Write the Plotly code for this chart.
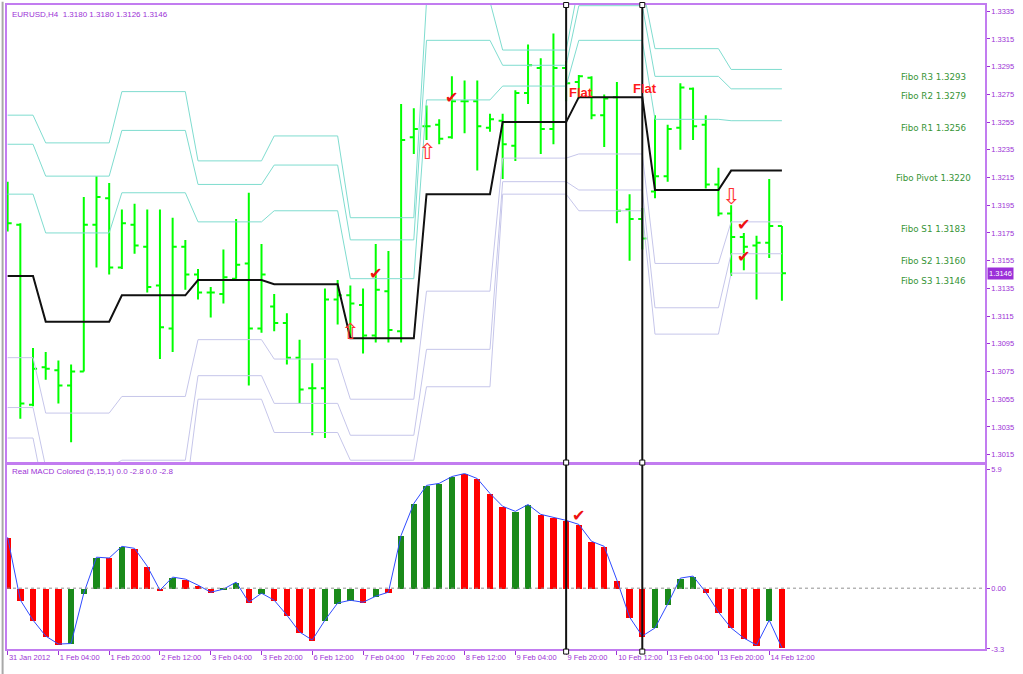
import plotly.graph_objects as go

# ---------------- data ----------------
bar_index = list(range(62))

opens = [1.3198, 1.3181, 1.3051, 1.3078, 1.3076, 1.3065, 1.3075, 1.3181, 1.3200, 1.3150,
         1.3181, 1.3165, 1.3137, 1.3106, 1.3165, 1.3145, 1.3132, 1.3131, 1.3142, 1.3153,
         1.3106, 1.3122, 1.3110, 1.3085, 1.3063, 1.3063, 1.3127, 1.3130, 1.3123, 1.3101,
         1.3133, 1.3104, 1.3244, 1.3252, 1.3253, 1.3244, 1.3270, 1.3270, 1.3251, 1.3256,
         1.3238, 1.3276, 1.3294, 1.3250, 1.3294, 1.3284, 1.3287, 1.3260, 1.3273, 1.3192,
         1.3185, 1.3205, 1.3216, 1.3251, 1.3279, 1.3253, 1.3210, 1.3189, 1.3172, 1.3166,
         1.3168, 1.3180]
highs = [1.3212, 1.3182, 1.3092, 1.3089, 1.3083, 1.3080, 1.3201, 1.3216, 1.3211, 1.3192,
         1.3196, 1.3192, 1.3192, 1.3186, 1.3170, 1.3149, 1.3136, 1.3163, 1.3185, 1.3204,
         1.3167, 1.3131, 1.3117, 1.3098, 1.3081, 1.3135, 1.3141, 1.3137, 1.3135, 1.3167,
         1.3162, 1.3268, 1.3265, 1.3267, 1.3257, 1.3288, 1.3285, 1.3285, 1.3261, 1.3261,
         1.3278, 1.3311, 1.3301, 1.3319, 1.3299, 1.3289, 1.3288, 1.3275, 1.3284, 1.3203,
         1.3193, 1.3260, 1.3253, 1.3283, 1.3280, 1.3260, 1.3222, 1.3195, 1.3175, 1.3173,
         1.3214, 1.3180]
lows = [1.3176, 1.3041, 1.3050, 1.3069, 1.3052, 1.3024, 1.3075, 1.3150, 1.3145, 1.3149,
        1.3160, 1.3132, 1.3084, 1.3089, 1.3134, 1.3127, 1.3114, 1.3124, 1.3142, 1.3065,
        1.3103, 1.3104, 1.3080, 1.3052, 1.3029, 1.3027, 1.3109, 1.3099, 1.3088, 1.3096,
        1.3096, 1.3096, 1.3232, 1.3242, 1.3239, 1.3243, 1.3247, 1.3220, 1.3248, 1.3214,
        1.3227, 1.3268, 1.3232, 1.3239, 1.3270, 1.3272, 1.3257, 1.3237, 1.3182, 1.3155,
        1.3163, 1.3200, 1.3212, 1.3235, 1.3242, 1.3207, 1.3187, 1.3144, 1.3148, 1.3127,
        1.3157, 1.3126]
closes = [1.3182, 1.3052, 1.3077, 1.3077, 1.3065, 1.3075, 1.3181, 1.3201, 1.3150, 1.3182,
          1.3166, 1.3136, 1.3107, 1.3165, 1.3145, 1.3132, 1.3132, 1.3143, 1.3152, 1.3106,
          1.3145, 1.3110, 1.3085, 1.3062, 1.3063, 1.3127, 1.3130, 1.3124, 1.3101, 1.3134,
          1.3105, 1.3242, 1.3250, 1.3252, 1.3243, 1.3270, 1.3270, 1.3252, 1.3257, 1.3239,
          1.3276, 1.3296, 1.3250, 1.3294, 1.3283, 1.3288, 1.3260, 1.3272, 1.3191, 1.3185,
          1.3171, 1.3216, 1.3250, 1.3280, 1.3252, 1.3210, 1.3189, 1.3172, 1.3165, 1.3168,
          1.3180, 1.3146]

# daily Fibonacci pivot levels (bars per trading day)
day_bar_counts = [3, 6, 6, 6, 6, 6, 6, 6, 6, 6, 5]
pivot_day = [1.3144, 1.3111, 1.3130, 1.3141, 1.3138, 1.3099, 1.3203, 1.3255, 1.3273, 1.3206, 1.3220]
r1_day = [1.3203, 1.3175, 1.3204, 1.3183, 1.3191, 1.3142, 1.3271, 1.3281, 1.3314, 1.3257, 1.3256]
r2_day = [1.3239, 1.3216, 1.3249, 1.3210, 1.3224, 1.3170, 1.3314, 1.3296, 1.3339, 1.3288, 1.3279]
r3_day = [1.3260, 1.3240, 1.3277, 1.3227, 1.3245, 1.3186, 1.3342, 1.3307, 1.3354, 1.3308, 1.3293]
s1_day = [1.3085, 1.3045, 1.3057, 1.3098, 1.3084, 1.3055, 1.3133, 1.3229, 1.3232, 1.3153, 1.3183]
s2_day = [1.3049, 1.3006, 1.3011, 1.3072, 1.3052, 1.3029, 1.3091, 1.3212, 1.3206, 1.3121, 1.3160]
s3_day = [1.3027, 1.2981, 1.2983, 1.3055, 1.3031, 1.3011, 1.3064, 1.3203, 1.3191, 1.3102, 1.3146]

fibo_names = ["Fibo R3", "Fibo R2", "Fibo R1", "Fibo Pivot", "Fibo S1", "Fibo S2", "Fibo S3"]

# MACD histogram and colour state (g = green, r = red)
macd_hist = [2.53, -0.59, -1.59, -2.38, -2.78, -2.75, -0.25, 1.54, 1.50, 2.08,
             1.98, 1.09, -0.10, 0.55, 0.45, 0.15, -0.20, -0.05, 0.30, -0.70,
             -0.25, -0.60, -1.34, -2.18, -2.58, -1.59, -0.74, -0.60, -0.70, -0.40,
             -0.20, 2.63, 4.21, 5.11, 5.21, 5.55, 5.70, 5.45, 4.71, 4.07,
             3.82, 4.16, 3.67, 3.52, 3.37, 3.17, 2.33, 2.08, 0.40, -1.44,
             -2.38, -1.98, -0.79, 0.50, 0.60, -0.20, -1.19, -1.98, -2.48, -2.83,
             -1.59, -2.97]
macd_state = list("rrrrrgggrgrrrgrrrggrgrrrrgggrgrgggggrrrrggrrrrrrrrrggggrrrrrgr")

# x axis labels
x_tick_index = [0, 4, 8, 12, 16, 20, 24, 28, 32, 36, 40, 44, 48, 52, 56, 60]
x_tick_labels = ["31 Jan 2012", "1 Feb 04:00", "1 Feb 20:00", "2 Feb 12:00", "3 Feb 04:00",
                 "3 Feb 20:00", "6 Feb 12:00", "7 Feb 04:00", "7 Feb 20:00", "8 Feb 12:00",
                 "9 Feb 04:00", "9 Feb 20:00", "10 Feb 12:00", "13 Feb 04:00", "13 Feb 20:00",
                 "14 Feb 12:00"]
price_ticks = [1.3015, 1.3035, 1.3055, 1.3075, 1.3095, 1.3115, 1.3135, 1.3155, 1.3175,
               1.3195, 1.3215, 1.3235, 1.3255, 1.3275, 1.3295, 1.3315, 1.3335]
macd_tick_vals = [5.9, 0.0, -3.02]
macd_tick_text = ["5.9", "0.00", "-3.3"]

last_price = 1.3146
title_text = "EURUSD,H4  1.3180 1.3180 1.3126 1.3146"
macd_title = "Real MACD Colored (5,15,1) 0.0 -2.8 0.0 -2.8"

# vertical line objects, signals
vline_bars = [44, 50]
flat_labels = [(44.05, 1.3276), (49.1, 1.3279)]
check_marks_price = [(29, 1.3146), (35, 1.3273), (58, 1.3181), (58, 1.3158)]
check_marks_macd = [(45, 3.6)]
up_arrows = [(27, 1.3104), (33, 1.3234)]
down_arrows = [(57, 1.3201)]

# ---------------- styles ----------------
FONT = "Liberation Sans"
PURPLE = "#9c33d6"
FRAME = "#c27cf0"
AQUA = "#7fdccf"
LAV = "#c6c6ea"
BAR_GREEN = "#00ff00"
HIST_GREEN = "#1a8a1a"
HIST_RED = "#ff0000"
FIBO_TXT = "#379537"


def per_bar(day_values):
    out = []
    for v, n in zip(day_values, day_bar_counts):
        out += [v] * n
    return out


fig = go.Figure()

# Fibonacci levels
for vals, col, w in [(r3_day, AQUA, 1), (r2_day, AQUA, 1), (r1_day, AQUA, 1),
                     (s1_day, LAV, 1), (s2_day, LAV, 1), (s3_day, LAV, 1),
                     (pivot_day, "#111111", 2)]:
    fig.add_trace(go.Scatter(x=bar_index, y=per_bar(vals), mode="lines",
                             line=dict(color=col, width=w), xaxis="x", yaxis="y",
                             hoverinfo="skip", showlegend=False))

# price bars
fig.add_trace(go.Ohlc(x=bar_index, open=opens, high=highs, low=lows, close=closes,
                      increasing=dict(line=dict(color=BAR_GREEN, width=2)),
                      decreasing=dict(line=dict(color=BAR_GREEN, width=2)),
                      tickwidth=0.32, xaxis="x", yaxis="y", showlegend=False,
                      hoverinfo="skip"))

# MACD histogram + line
fig.add_trace(go.Bar(x=bar_index, y=macd_hist, width=0.5,
                     marker=dict(color=[HIST_GREEN if s == "g" else HIST_RED for s in macd_state],
                                 line=dict(width=0)),
                     xaxis="x2", yaxis="y2", showlegend=False, hoverinfo="skip"))
fig.add_trace(go.Scatter(x=bar_index, y=macd_hist, mode="lines",
                         line=dict(color="#2f4bff", width=1), xaxis="x2", yaxis="y2",
                         showlegend=False, hoverinfo="skip"))

shapes = []
shapes.append(dict(type="line", xref="paper", x0=0, x1=1, yref="y2", y0=0, y1=0,
                   line=dict(color="#909090", width=1, dash="dot")))
for b in vline_bars:
    shapes.append(dict(type="line", xref="x", x0=b, x1=b, yref="paper", y0=-0.005, y1=1,
                       line=dict(color="#111111", width=2)))
    for py in [1.0, 0.2895, -0.004]:
        shapes.append(dict(type="rect", xref="x", xsizemode="pixel", xanchor=b, x0=-2.5, x1=2.5,
                           yref="paper", ysizemode="pixel", yanchor=py, y0=-2.5, y1=2.5,
                           line=dict(color="#111111", width=1), fillcolor="white"))
shapes.append(dict(type="line", xref="paper", x0=-0.0045, x1=-0.0045, yref="paper",
                   y0=-0.04, y1=1.005, line=dict(color="#a8a8a8", width=2)))

annotations = []
annotations.append(dict(text=title_text, xref="paper", yref="paper", x=0.003, y=0.9845,
                        xanchor="left", yanchor="middle", showarrow=False,
                        font=dict(family=FONT, size=8, color=PURPLE)))
annotations.append(dict(text=macd_title, xref="paper", yref="paper", x=0.003, y=0.2755,
                        xanchor="left", yanchor="middle", showarrow=False,
                        font=dict(family=FONT, size=8, color=PURPLE)))
fibo_levels_last = [r3_day[-1], r2_day[-1], r1_day[-1], pivot_day[-1], s1_day[-1], s2_day[-1], s3_day[-1]]
for name, lv in zip(fibo_names, fibo_levels_last):
    annotations.append(dict(text=f"{name} {lv:.4f}", xref="x", yref="y", x=72.95, y=lv,
                            xanchor="center", yanchor="middle", yshift=-7.5, showarrow=False,
                            font=dict(family="DejaVu Sans", size=8.7, color=FIBO_TXT)))
for fx, fy in flat_labels:
    annotations.append(dict(text="<b>Flat</b>", xref="x", yref="y", x=fx, y=fy,
                            xanchor="left", yanchor="middle", showarrow=False,
                            font=dict(family=FONT, size=13, color="#ff1a1a")))
for cx, cy in check_marks_price:
    annotations.append(dict(text="✔", xref="x", yref="y", x=cx, y=cy, showarrow=False,
                            font=dict(family="DejaVu Sans", size=16, color="#ee1111")))
for cx, cy in check_marks_macd:
    annotations.append(dict(text="✔", xref="x2", yref="y2", x=cx, y=cy, showarrow=False,
                            font=dict(family="DejaVu Sans", size=16, color="#ee1111")))
for ax_, ay in up_arrows:
    annotations.append(dict(text="⇧", xref="x", yref="y", x=ax_, y=ay, showarrow=False,
                            font=dict(family="DejaVu Sans", size=22, color="#ff3030")))
for ax_, ay in down_arrows:
    annotations.append(dict(text="⇩", xref="x", yref="y", x=ax_, y=ay, showarrow=False,
                            font=dict(family="DejaVu Sans", size=22, color="#ff3030")))
annotations.append(dict(text=f"{last_price:.4f}", xref="paper", yref="y", x=1.0, y=last_price,
                        xanchor="left", yanchor="middle", xshift=2, showarrow=False,
                        bgcolor="#9b30d8", borderpad=1,
                        font=dict(family=FONT, size=7.5, color="white")))

xr = [-0.05, 77.0]
fig.update_layout(
    width=1023, height=674,
    margin=dict(l=7, r=38, t=3, b=25),
    paper_bgcolor="white", plot_bgcolor="white",
    showlegend=False, hovermode=False, bargap=0,
    shapes=shapes, annotations=annotations,
    xaxis=dict(domain=[0, 1], range=xr, anchor="y", showticklabels=False, ticks="",
               showgrid=False, zeroline=False, showline=True, mirror=True,
               linecolor=FRAME, linewidth=1.5, rangeslider=dict(visible=False)),
    yaxis=dict(domain=[0.2895, 1], range=[1.30093, 1.33395], side="right", anchor="x",
               tickvals=price_ticks, tickformat=".4f", ticks="outside", ticklen=3,
               tickcolor=PURPLE, showgrid=False, zeroline=False, showline=True, mirror=True,
               linecolor=FRAME, linewidth=1.5, automargin=False,
               tickfont=dict(family=FONT, size=7.5, color=PURPLE)),
    xaxis2=dict(domain=[0, 1], range=xr, anchor="y2", tickvals=x_tick_index,
                ticktext=x_tick_labels, ticks="outside", ticklen=4, tickcolor=PURPLE,
                tickangle=0, ticklabelposition="outside right", showgrid=False,
                zeroline=False, automargin=False,
                showline=True, mirror=True, linecolor=FRAME, linewidth=1.5,
                tickfont=dict(family=FONT, size=7.5, color=PURPLE)),
    yaxis2=dict(domain=[0, 0.288], range=[-3.024, 6.197], side="right", anchor="x2",
                tickvals=macd_tick_vals, ticktext=macd_tick_text, ticks="outside", ticklen=3,
                tickcolor=PURPLE, showgrid=False, zeroline=False, showline=True, mirror=True,
                linecolor=FRAME, linewidth=1.5, automargin=False,
                tickfont=dict(family=FONT, size=7.5, color=PURPLE)),
)

fig.write_html("out.html", config={"displayModeBar": False},
               post_script="document.body.style.margin='0px';")
